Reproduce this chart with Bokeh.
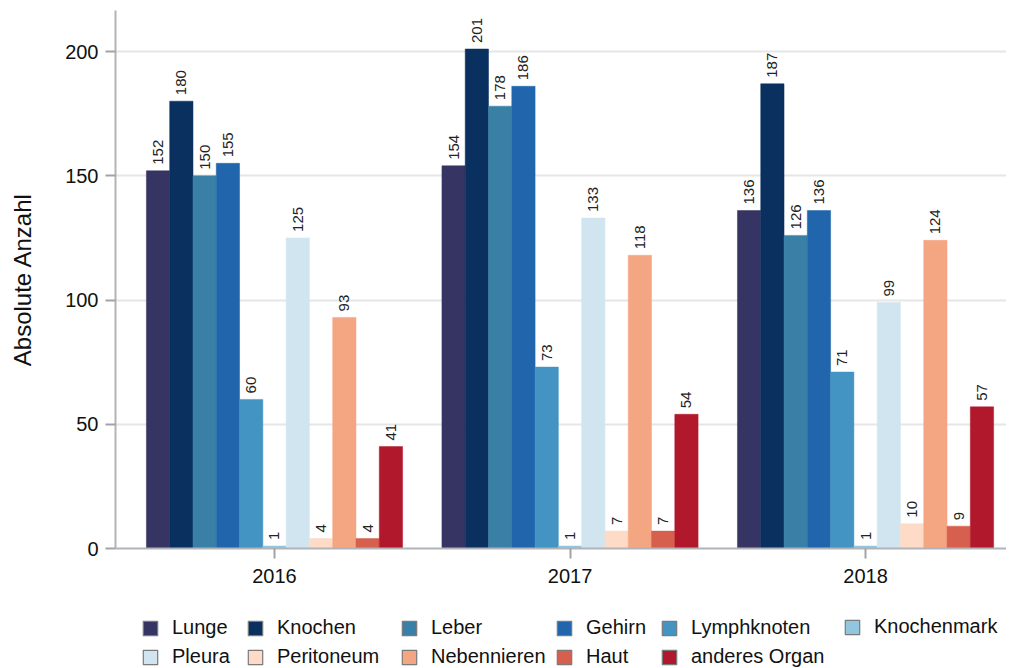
import math
from bokeh.plotting import figure
from bokeh.layouts import column
from bokeh.models import ColumnDataSource, Range1d, Legend, LegendItem, FixedTicker
from bokeh.embed import file_html
from bokeh.resources import INLINE
from bokeh.core.properties import value

years = ["2016", "2017", "2018"]
organs = ["Lunge", "Knochen", "Leber", "Gehirn", "Lymphknoten", "Knochenmark",
          "Pleura", "Peritoneum", "Nebennieren", "Haut", "anderes Organ"]
colors = ["#363463", "#09305e", "#3a80a6", "#2166ac", "#4393c3", "#92c5de",
          "#d1e5f0", "#fddbc7", "#f4a582", "#d6604d", "#b2182b"]
v2016 = [152, 180, 150, 155, 60, 1, 125, 4, 93, 4, 41]
v2017 = [154, 201, 178, 186, 73, 1, 133, 7, 118, 7, 54]
v2018 = [136, 187, 126, 136, 71, 1, 99, 10, 124, 9, 57]
values = [v2016, v2017, v2018]

FONT = "Liberation Sans"
bw = 0.0788
LEFT = 115

p = figure(width=1006, height=608, output_backend="svg", toolbar_location=None,
           x_range=Range1d(-0.538, 2.477), y_range=Range1d(0, 216.5),
           min_border_left=LEFT, min_border_right=0, min_border_top=10,
           min_border_bottom=60)
p.outline_line_color = None
p.xgrid.grid_line_color = None
p.ygrid.grid_line_color = "#e6e6e6"
p.ygrid.grid_line_width = 2
p.ygrid.ticker = FixedTicker(ticks=[50, 100, 150, 200])

lab_x, lab_y, lab_t = [], [], []
for i, (org, col) in enumerate(zip(organs, colors)):
    xs = [g + (i - 5) * bw for g in range(len(years))]
    tops = [values[g][i] for g in range(len(years))]
    src = ColumnDataSource(dict(x=xs, top=tops))
    p.vbar(x="x", top="top", width=bw, source=src, fill_color=col, line_color=col, line_width=0.5)
    lab_x += xs
    lab_y += tops
    lab_t += [str(t) for t in tops]

lsrc = ColumnDataSource(dict(x=lab_x, y=lab_y, t=lab_t))
p.text(x="x", y="y", text="t", source=lsrc, angle=math.pi / 2, text_align="left",
       text_baseline="middle", y_offset=-6, text_font=value(FONT),
       text_font_size="15px", text_color="#222222")

for ax in (p.xaxis[0], p.yaxis[0]):
    ax.axis_line_color = "#b0b4b8"
    ax.axis_line_width = 2
    ax.major_tick_line_color = "#a0a4a8"
    ax.major_tick_line_width = 2
    ax.minor_tick_line_color = None
    ax.major_tick_out = 10
    ax.major_tick_in = 0
    ax.major_label_text_font = FONT
    ax.major_label_text_font_size = "20px"
    ax.major_label_text_color = "#111111"

p.xaxis.ticker = FixedTicker(ticks=[0, 1, 2])
p.xaxis.major_label_overrides = {0: years[0], 1: years[1], 2: years[2]}
p.xaxis.major_label_standoff = 10

p.yaxis.ticker = FixedTicker(ticks=[0, 50, 100, 150, 200])
p.yaxis.major_label_standoff = 7
p.yaxis.axis_label = "Absolute Anzahl"
p.yaxis.axis_label_text_font = FONT
p.yaxis.axis_label_text_font_size = "24px"
p.yaxis.axis_label_text_font_style = "normal"
p.yaxis.axis_label_text_color = "#111111"
p.yaxis.axis_label_standoff = 26

# legend figure
q = figure(width=1006, height=60, output_backend="svg", toolbar_location=None,
           x_range=Range1d(0, 1), y_range=Range1d(0, 1),
           x_axis_type=None, y_axis_type=None,
           min_border_left=LEFT, min_border_right=0, min_border_top=0, min_border_bottom=0)
q.outline_line_color = None
q.xgrid.grid_line_color = None
q.ygrid.grid_line_color = None

items = []
for org, col in zip(organs, colors):
    proxy = q.vbar(x=[-5], top=[-5], bottom=[-6], width=0.1, fill_color=col,
                   line_color="#7a7a7a", line_width=1.2)
    items.append(LegendItem(label=org, renderers=[proxy]))

ncols = 6
col_x = [26, 131, 285, 440, 545, 728]
for c in range(ncols):
    col_items = items[c::ncols]
    ypos = 0 if len(col_items) == 2 else 30
    lg = Legend(items=col_items, orientation="vertical", location=(col_x[c], ypos),
                label_text_font=FONT, label_text_font_size="20px",
                label_text_color="#111111",
                glyph_width=18, glyph_height=18, label_height=20,
                label_standoff=13, spacing=6, padding=0, margin=0,
                border_line_color=None, background_fill_alpha=0)
    q.add_layout(lg, "center")

layout = column(p, q, spacing=0)
open("out.html", "w").write(file_html(layout, INLINE))
